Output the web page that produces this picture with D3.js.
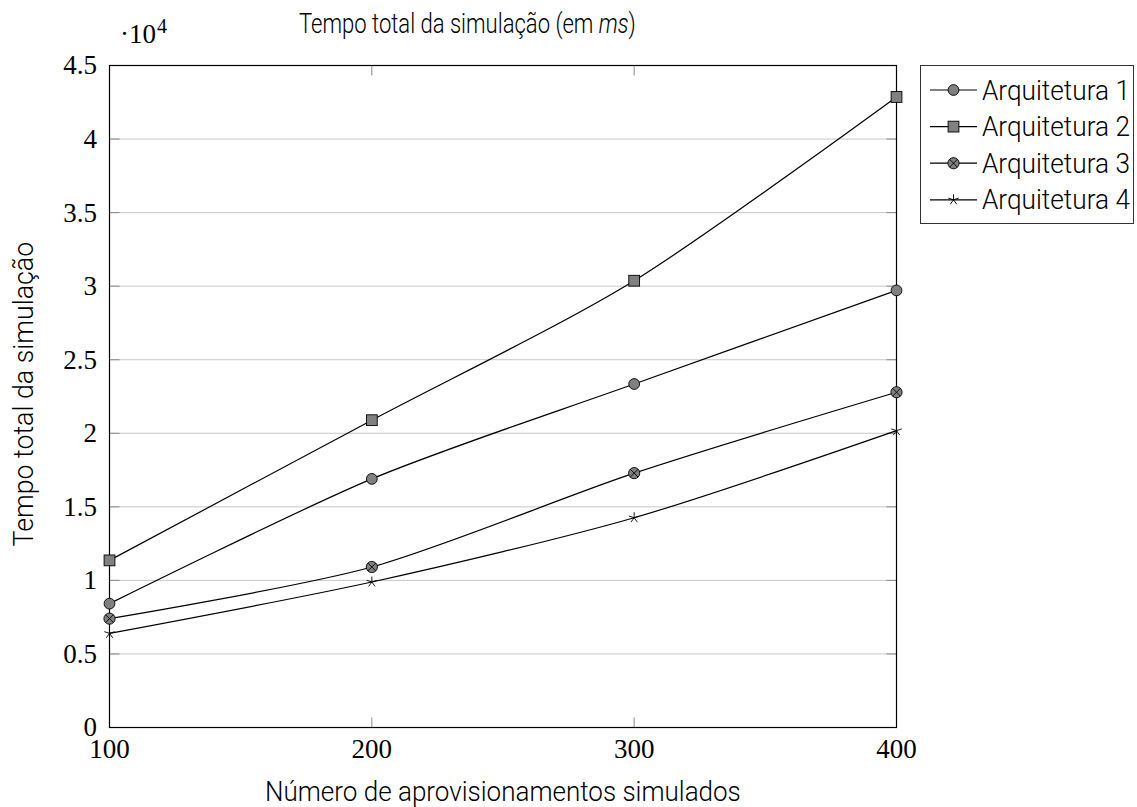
<!DOCTYPE html>
<html>
<head>
<meta charset="utf-8">
<script src="https://cdn.jsdelivr.net/npm/d3@7"></script>
<style>
  body { margin: 0; background: #fff; }
  .sans { font-family: Roboto, 'Liberation Sans', sans-serif; font-weight: 300; font-size: 28px; fill: #000; }
  .serif { font-family: 'Liberation Serif', 'DejaVu Serif', serif; font-size: 27px; fill: #000; }
</style>
</head>
<body>
<svg id="chart" width="1137" height="807"></svg>
<script>
// data
const xVals = [100, 200, 300, 400]
const arq1 = [8420, 16900, 23350, 29710]
const arq2 = [11360, 20890, 30370, 42860]
const arq3 = [7400, 10910, 17290, 22790]
const arq4 = [6400, 9890, 14260, 20180]
const seriesNames = ['Arquitetura 1', 'Arquitetura 2', 'Arquitetura 3', 'Arquitetura 4']
const markTypes = ['circle', 'square', 'otimes', 'star']
const yTicks = [0, 5000, 10000, 15000, 20000, 25000, 30000, 35000, 40000, 45000]
const xTicks = [100, 200, 300, 400]

const margin = {left: 109.5, right: 896.5, top: 65.5, bottom: 727.5}
const markFill = '#808080'

const svg = d3.select('#chart')

const x = d3.scaleLinear().domain([100, 400]).range([margin.left, margin.right])
const y = d3.scaleLinear().domain([0, 45000]).range([margin.bottom, margin.top])

// squeeze a text horizontally so it spans the given width (the reference font is narrow)
function narrowText (sel, px, py, width, anchor, rotate) {
  const w = sel.node().getComputedTextLength()
  const k = width / w
  let dx = 0
  if (anchor === 'middle') dx = -width / 2
  sel.attr('x', 0).attr('y', 0)
  const rot = rotate ? ` rotate(${rotate})` : ''
  sel.attr('transform', `translate(${px},${py})${rot} translate(${dx},0) scale(${k},1)`)
}

// grid
svg.append('g')
  .selectAll('line')
  .data(yTicks.slice(1, -1))
  .enter()
  .append('line')
  .attr('x1', margin.left).attr('x2', margin.right)
  .attr('y1', d => y(d)).attr('y2', d => y(d))
  .attr('stroke', '#c8c8c8').attr('stroke-width', 1)

// tick marks, inward on all sides
const tickG = svg.append('g').attr('stroke', '#8a8a8a').attr('stroke-width', 1)
yTicks.slice(1, -1).forEach(t => {
  tickG.append('line').attr('x1', margin.left).attr('x2', margin.left + 10).attr('y1', y(t)).attr('y2', y(t))
  tickG.append('line').attr('x1', margin.right - 10).attr('x2', margin.right).attr('y1', y(t)).attr('y2', y(t))
})
xTicks.slice(1, -1).forEach(t => {
  tickG.append('line').attr('x1', x(t)).attr('x2', x(t)).attr('y1', margin.bottom).attr('y2', margin.bottom - 10)
  tickG.append('line').attr('x1', x(t)).attr('x2', x(t)).attr('y1', margin.top).attr('y2', margin.top + 10)
})

// tick labels
svg.append('g')
  .selectAll('text')
  .data(yTicks)
  .enter()
  .append('text')
  .attr('class', 'serif')
  .attr('text-anchor', 'end')
  .attr('x', 97)
  .attr('y', d => y(d))
  .attr('dy', '0.33em')
  .text(d => d3.format('~g')(d / 10000))

svg.append('g')
  .selectAll('text')
  .data(xTicks)
  .enter()
  .append('text')
  .attr('class', 'serif')
  .attr('text-anchor', 'middle')
  .attr('x', d => x(d))
  .attr('y', 758)
  .text(d => d)

// ·10^4 multiplier
const mult = svg.append('text').attr('class', 'serif').attr('font-size', '29px').attr('x', 120).attr('y', 43)
mult.append('tspan').text('·10')
mult.append('tspan').attr('font-size', '20px').attr('dy', -10).attr('dx', 1).text('4')

// frame
svg.append('rect')
  .attr('x', margin.left).attr('y', margin.top)
  .attr('width', margin.right - margin.left).attr('height', margin.bottom - margin.top)
  .attr('fill', 'none').attr('stroke', '#000').attr('stroke-width', 1.2)

// lines
const allSeries = [arq1, arq2, arq3, arq4]
const line = d3.line()
  .x((d, i) => x(xVals[i]))
  .y(d => y(d))
  .curve(d3.curveCardinal.tension(0.2))

svg.append('g')
  .selectAll('path')
  .data(allSeries)
  .enter()
  .append('path')
  .attr('d', d => line(d))
  .attr('fill', 'none')
  .attr('stroke', '#000')
  .attr('stroke-width', 1.2)

function drawMark (g, type, cx, cy) {
  if (type === 'circle') {
    g.append('circle').attr('cx', cx).attr('cy', cy).attr('r', 5.4)
      .attr('fill', markFill).attr('stroke', '#000').attr('stroke-width', 0.9)
  } else if (type === 'square') {
    g.append('rect').attr('x', cx - 5.4).attr('y', cy - 5.4).attr('width', 10.8).attr('height', 10.8)
      .attr('fill', markFill).attr('stroke', '#000').attr('stroke-width', 0.9)
  } else if (type === 'otimes') {
    const r = 5.6
    g.append('circle').attr('cx', cx).attr('cy', cy).attr('r', r)
      .attr('fill', markFill).attr('stroke', '#000').attr('stroke-width', 0.9)
    const k = r * Math.SQRT1_2
    g.append('line').attr('x1', cx - k).attr('y1', cy - k).attr('x2', cx + k).attr('y2', cy + k)
      .attr('stroke', '#000').attr('stroke-width', 0.9)
    g.append('line').attr('x1', cx - k).attr('y1', cy + k).attr('x2', cx + k).attr('y2', cy - k)
      .attr('stroke', '#000').attr('stroke-width', 0.9)
  } else if (type === 'star') {
    const r = 5.5
    for (let i = 0; i < 5; i++) {
      const a = -Math.PI / 2 + i * 2 * Math.PI / 5
      g.append('line').attr('x1', cx).attr('y1', cy)
        .attr('x2', cx + r * Math.cos(a)).attr('y2', cy + r * Math.sin(a))
        .attr('stroke', '#000').attr('stroke-width', 0.9)
    }
  }
}

// markers
const markG = svg.append('g')
allSeries.forEach((s, si) => {
  s.forEach((v, i) => drawMark(markG, markTypes[si], x(xVals[i]), y(v)))
})

// titles
const title = svg.append('text').attr('class', 'sans')
title.append('tspan').text('Tempo total da simulação (em ')
title.append('tspan').attr('font-style', 'italic').text('ms')
title.append('tspan').text(')')
narrowText(title, 299, 33, 337, 'start')

const xLabel = svg.append('text').attr('class', 'sans')
  .text('Número de aprovisionamentos simulados')
narrowText(xLabel, (margin.left + margin.right) / 2, 801, 476, 'middle')

const yLabel = svg.append('text').attr('class', 'sans')
  .text('Tempo total da simulação')
narrowText(yLabel, 33, 394, 305, 'middle', -90)

// legend
const leg = svg.append('g')
leg.append('rect')
  .attr('x', 920.5).attr('y', 65.5).attr('width', 213).attr('height', 158)
  .attr('fill', '#fff').attr('stroke', '#333').attr('stroke-width', 1)

seriesNames.forEach((name, i) => {
  const ly = 90 + i * 36.6
  leg.append('line').attr('x1', 930).attr('x2', 977).attr('y1', ly).attr('y2', ly)
    .attr('stroke', '#000').attr('stroke-width', 1.2)
  drawMark(leg, markTypes[i], 953.5, ly)
  const t = leg.append('text').attr('class', 'sans').text(name)
  narrowText(t, 982, ly + 9.5, 148, 'start')
})
</script>
</body>
</html>
